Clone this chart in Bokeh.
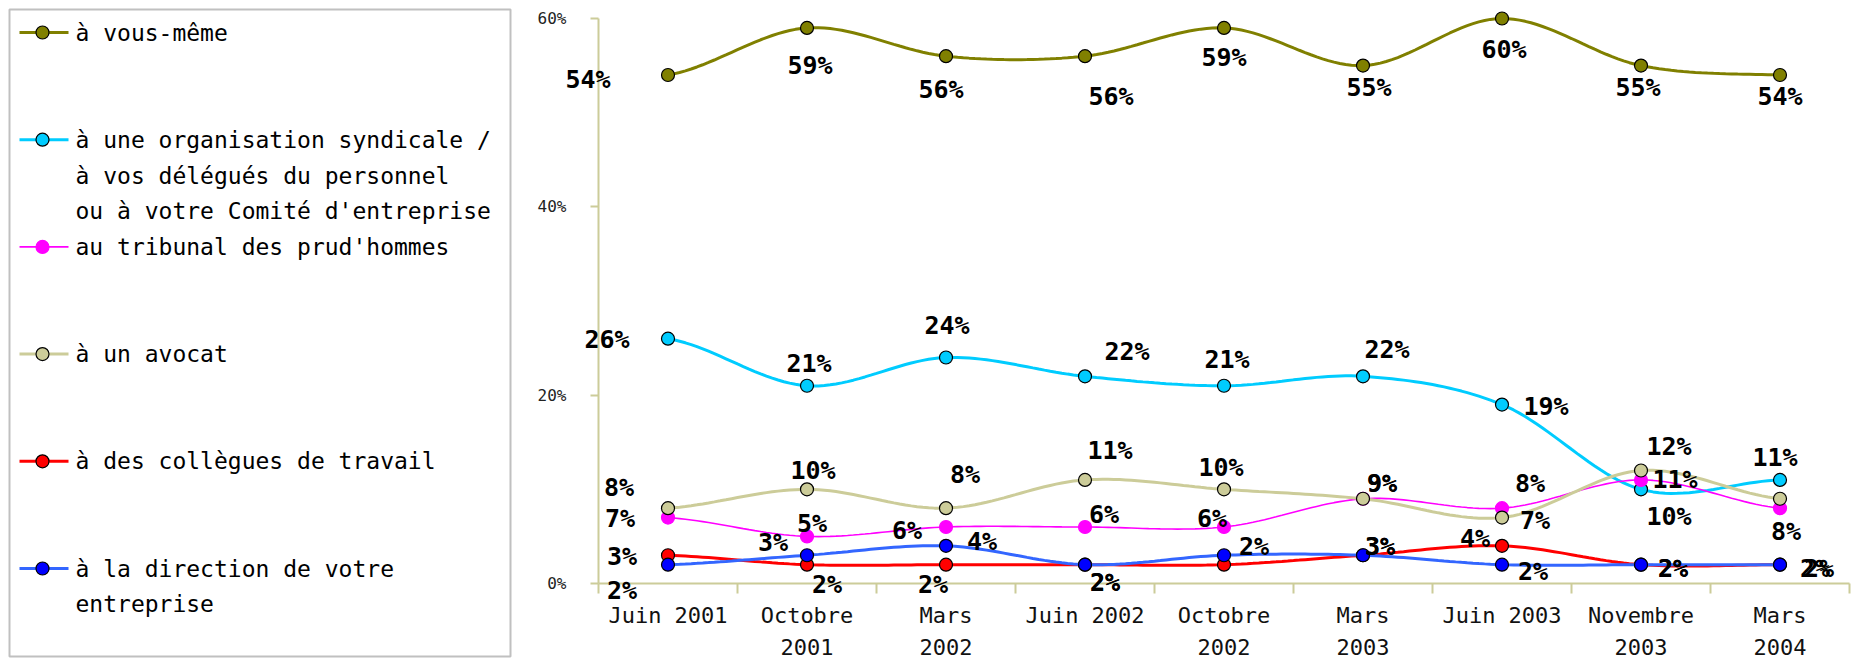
import numpy as np
from bokeh.plotting import figure
from bokeh.models import Range1d, FixedTicker, ColumnDataSource, LabelSet
from bokeh.layouts import row
from bokeh.embed import file_html
from bokeh.resources import INLINE
from bokeh.core.properties import value

# ---------------- data ----------------
categories = ["Juin 2001", "Octobre 2001", "Mars 2002", "Juin 2002", "Octobre 2002",
              "Mars 2003", "Juin 2003", "Novembre 2003", "Mars 2004"]
x_tick_labels = ["Juin 2001", "Octobre\n2001", "Mars\n2002", "Juin 2002", "Octobre\n2002",
                 "Mars\n2003", "Juin 2003", "Novembre\n2003", "Mars\n2004"]
y_ticks = [0, 20, 40, 60]
y_tick_labels = ["0%", "20%", "40%", "60%"]

series_names = [
    "à vous-même",
    "à une organisation syndicale /\nà vos délégués du personnel\nou à votre Comité d'entreprise",
    "au tribunal des prud'hommes",
    "à un avocat",
    "à des collègues de travail",
    "à la direction de votre\nentreprise",
]
vous_meme = [54, 59, 56, 56, 59, 55, 60, 55, 54]
syndicale = [26, 21, 24, 22, 21, 22, 19, 10, 11]
prudhommes = [7, 5, 6, 6, 6, 9, 8, 11, 8]
avocat = [8, 10, 8, 11, 10, 9, 7, 12, 9]
collegues = [3, 2, 2, 2, 2, 3, 4, 2, 2]
direction = [2, 3, 4, 2, 3, 3, 2, 2, 2]
series_values = [vous_meme, syndicale, prudhommes, avocat, collegues, direction]

# ---------------- styles ----------------
line_colors = ["#808000", "#00CCFF", "#FF00FF", "#CCCC99", "#FF0000", "#3366FF"]
marker_fill = ["#808000", "#00CCFF", "#FF00FF", "#CCCC99", "#FF0000", "#0000FF"]
marker_line = ["#000000", "#000000", "#FF00FF", "#000000", "#000000", "#000000"]
line_widths = [3, 3, 1.6, 3, 3, 3]
AXIS_COLOR = "#CCCC99"
MONO = "DejaVu Sans Mono"

# label offsets in screen pixels (dx right, dy down); None = label not shown
label_offsets = [
    [(-80, 4), (3, 38), (-5, 33), (26, 40), (0, 30), (6, 22), (2, 31), (-3, 22), (0, 21)],
    [(-61, 1), (2, -22), (1, -32), (42, -25), (3, -26), (24, -27), (44, 2), (28, 27), (-5, -22)],
    [(-48, 1), (5, -13), (-39, 3), (19, -13), (-12, -9), (19, -15), (28, -25), (34, 0), (6, 23)],
    [(-49, -21), (6, -19), (19, -34), (25, -29), (-3, -22), (19, -15), (33, 3), (28, -24), None],
    [(-46, 1), (20, 20), (-13, 20), (20, 18), (30, -18), (17, -9), (-27, -7), (32, 4), (35, 4)],
    [(-46, 26), (-34, -13), (36, -4), (20, 18), None, (17, -9), (31, 7), (32, 4), (39, 4)],
]


def smooth(ys, n=24):
    """Catmull-Rom style smoothing through the data points (as Excel smoothed lines)."""
    ys = np.asarray(ys, dtype=float)
    k = len(ys)
    xs_out, ys_out = [], []
    for i in range(k - 1):
        p0 = ys[i - 1] if i > 0 else ys[i]
        p1, p2 = ys[i], ys[i + 1]
        p3 = ys[i + 2] if i + 2 < k else ys[i + 1]
        m1 = (p2 - p0) / 2.0
        m2 = (p3 - p1) / 2.0
        t = np.linspace(0, 1, n, endpoint=(i == k - 2))
        h00 = 2 * t**3 - 3 * t**2 + 1
        h10 = t**3 - 2 * t**2 + t
        h01 = -2 * t**3 + 3 * t**2
        h11 = t**3 - t**2
        xs_out.extend(i + t)
        ys_out.extend(h00 * p1 + h10 * m1 + h01 * p2 + h11 * m2)
    return xs_out, ys_out


# ---------------- main chart (frame = whole canvas, axes at fixed locations) ----------------
H = 660
W_LEG = 518
W_MAIN = 1336
PXU = 139.0          # pixels per category
PXP = 565.0 / 60.0   # pixels per percent
AX_X = 80            # y-axis position inside the main canvas
AX_Y = 583           # x-axis (0 %) position from the top of the canvas
x_start = -0.5 - AX_X / PXU
x_end = -0.5 + (W_MAIN - AX_X) / PXU
y_end = AX_Y / PXP
y_start = -(H - AX_Y) / PXP

p = figure(width=W_MAIN, height=H, x_range=Range1d(x_start, x_end), y_range=Range1d(y_start, y_end),
           output_backend="svg", toolbar_location=None, title=None, min_border=0)
p.grid.visible = False
p.outline_line_color = None
p.background_fill_color = "white"

xi = list(range(len(categories)))
for vals, lc, mf, ml, lw in zip(series_values, line_colors, marker_fill, marker_line, line_widths):
    sx, sy = smooth(vals)
    p.line(sx, sy, line_color=lc, line_width=lw)
    p.scatter(xi, vals, size=13, fill_color=mf, line_color=ml, line_width=1.2)

for vals, offs in zip(series_values, label_offsets):
    xs, ys, txt, dxs, dys = [], [], [], [], []
    for i, v in enumerate(vals):
        if offs[i] is None:
            continue
        xs.append(i)
        ys.append(v)
        txt.append(f"{v}%")
        dxs.append(offs[i][0])
        dys.append(-offs[i][1])
    src = ColumnDataSource(dict(x=xs, y=ys, text=txt, dx=dxs, dy=dys))
    p.add_layout(LabelSet(x="x", y="y", text="text", x_offset="dx", y_offset="dy", source=src,
                          text_font=value(MONO), text_font_style="bold", text_font_size="25px",
                          text_align="center", text_baseline="middle", text_color="#000000"))

xa = p.xaxis[0]
xa.fixed_location = 0
xa.bounds = (-0.5, 8.5)
xa.ticker = FixedTicker(ticks=xi, minor_ticks=[i - 0.5 for i in range(len(categories) + 1)])
xa.major_label_overrides = {i: lab for i, lab in enumerate(x_tick_labels)}
xa.major_tick_line_color = None
xa.major_tick_out = 0
xa.major_tick_in = 0
xa.minor_tick_out = 10
xa.minor_tick_in = 0
xa.minor_tick_line_color = AXIS_COLOR
xa.minor_tick_line_width = 2
xa.axis_line_color = AXIS_COLOR
xa.axis_line_width = 2
xa.major_label_standoff = 9
xa.major_label_text_font = MONO
xa.major_label_text_font_size = "22px"
xa.major_label_text_color = "#111111"
xa.major_label_text_line_height = 1.3

ya = p.yaxis[0]
ya.fixed_location = -0.5
ya.ticker = FixedTicker(ticks=y_ticks)
ya.major_label_overrides = {t: lab for t, lab in zip(y_ticks, y_tick_labels)}
ya.bounds = (0, 60)
ya.major_tick_out = 8
ya.major_tick_in = 0
ya.major_tick_line_color = AXIS_COLOR
ya.major_tick_line_width = 2
ya.minor_tick_line_color = None
ya.axis_line_color = AXIS_COLOR
ya.axis_line_width = 2
ya.major_label_standoff = 24
ya.major_label_text_font = MONO
ya.major_label_text_font_size = "16px"
ya.major_label_text_color = "#222222"

# ---------------- legend panel ----------------
lg = figure(width=W_LEG, height=H, x_range=Range1d(0, W_LEG), y_range=Range1d(H, 0),
            output_backend="svg", toolbar_location=None, title=None, min_border=0)
lg.axis.visible = False
lg.grid.visible = False
lg.outline_line_color = None
lg.quad(left=9, right=510, top=9, bottom=656, fill_color=None, line_color="#C0C0C0", line_width=2)

entry_y = [32 + 107.2 * i for i in range(len(series_names))]
for yy, name, lc, mf, ml, lw in zip(entry_y, series_names, line_colors, marker_fill, marker_line, line_widths):
    lg.segment(x0=[19], y0=[yy], x1=[68], y1=[yy], line_color=lc, line_width=lw)
    lg.scatter([42], [yy], size=13, fill_color=mf, line_color=ml, line_width=1.2)
lg.text(x=[75] * len(series_names), y=[y - 13 for y in entry_y], text=series_names,
        text_font=value(MONO), text_font_size="23px", text_baseline="top", text_align="left",
        text_line_height=1.38, text_color="#000000")

layout = row(lg, p)
open("out.html", "w").write(file_html(layout, INLINE))
